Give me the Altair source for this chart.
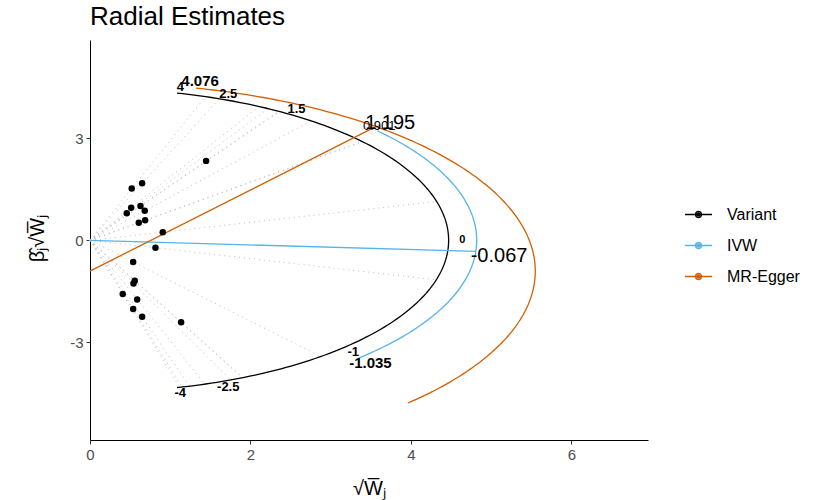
import math
import numpy as np
import pandas as pd
import altair as alt

# ---- values ----
sqrt_w = [1.447, 0.520, 0.650, 0.513, 0.458, 0.629, 0.682, 0.608, 0.687, 0.907,
          0.816, 0.538, 0.558, 0.542, 0.408, 0.588, 0.538, 0.650, 1.136]
beta_sqrt_w = [2.34, 1.53, 1.68, 0.96, 0.80, 1.01, 0.87, 0.52, 0.59, 0.24,
               -0.22, -0.64, -1.19, -1.27, -1.58, -1.74, -2.02, -2.25, -2.41]

ivw_est = -0.067
egger_est = 1.195
egger_int = -0.906
variant_range = [-4.0, 4.0]
ivw_range = [-1.035, 0.901]
egger_range = [-0.98, 4.076]
variant_ticks = [4, 2.5, 1.5, -1, -2.5, -4]
variant_zero = [0]
r_variant = 4.47
r_ivw = 4.82
r_egger = 5.55

series_names = ["Variant", "IVW", "MR-Egger"]
series_colors = ["#000000", "#56B4E9", "#D55E00"]

x_ticks = [0, 2, 4, 6]
y_ticks = [-3, 0, 3]

FONT = "Liberation Sans"

# ---- build tables ----
def arc(r, lo, hi, cy=0.0, n=160):
    th = np.linspace(math.atan(hi), math.atan(lo), n)
    return r * np.cos(th), cy + r * np.sin(th)

rows = []
def add(series, group, xs, ys):
    for i, (a, b) in enumerate(zip(xs, ys)):
        rows.append({"series": series, "group": group, "ord": i, "x": float(a), "y": float(b)})

add("Variant", "v_arc", *arc(r_variant, *variant_range))
add("IVW", "i_arc", *arc(r_ivw, *ivw_range))
ti = math.atan(ivw_est)
add("IVW", "i_line", [0, r_ivw * math.cos(ti)], [0, r_ivw * math.sin(ti)])
add("MR-Egger", "e_arc", *arc(r_egger, *egger_range, cy=egger_int))
te = math.atan(egger_est)
add("MR-Egger", "e_line", [0, r_egger * math.cos(te)], [egger_int, egger_int + r_egger * math.sin(te)])
lines_df = pd.DataFrame(rows)

pts_df = pd.DataFrame({"x": sqrt_w, "y": beta_sqrt_w})
th_pts = [math.atan2(b, a) for a, b in zip(sqrt_w, beta_sqrt_w)]
rules_df = pd.DataFrame({
    "x": [0.0] * len(sqrt_w), "y": [0.0] * len(sqrt_w),
    "x2": [r_variant * math.cos(t) for t in th_pts],
    "y2": [r_variant * math.sin(t) for t in th_pts],
})

def label_df(values, r, cy=0.0, texts=None):
    out = []
    for i, v in enumerate(values):
        t = math.atan(v)
        out.append({"x": r * math.cos(t), "y": cy + r * math.sin(t),
                    "text": texts[i] if texts else (str(v) if v != int(v) else str(int(v)))})
    return pd.DataFrame(out)

lab_var = label_df(variant_ticks, r_variant + 0.17)
lab_zero = label_df(variant_zero, r_variant + 0.17)
lab_mid = pd.concat([
    label_df([ivw_range[0]], r_ivw + 0.21, texts=["-1.035"]),
    label_df([egger_range[1]], r_egger + 0.21, cy=egger_int, texts=["4.076"]),
])
lab_small = label_df([ivw_range[1]], r_ivw + 0.2, texts=["0.901"])
lab_big = pd.concat([
    label_df([ivw_est], r_ivw + 0.29, texts=["-0.067"]),
    label_df([egger_est], r_egger + 0.28, cy=egger_int, texts=["1.195"]),
])

# ---- encodings ----
xscale = alt.Scale(domain=[0, 6.955], nice=False, zero=False)
yscale = alt.Scale(domain=[-5.88, 5.9], nice=False, zero=False)
xaxis = alt.Axis(values=x_ticks, title="√W̅ⱼ", grid=False, labelExpr="toString(datum.value)",
                 labelFlush=False,
                 titleX=279, titleY=48, titleBaseline="middle", titleAlign="center")
yaxis = alt.Axis(values=y_ticks, title="β̂ⱼ√W̅ⱼ", grid=False, labelExpr="toString(datum.value)",
                 labelFlush=False,
                 titleAngle=-90, titleX=-53, titleY=198, titleBaseline="middle", titleAlign="center")
X = alt.X("x:Q", scale=xscale, axis=xaxis)
Y = alt.Y("y:Q", scale=yscale, axis=yaxis)

rules = alt.Chart(rules_df).mark_rule(color="#BDBDBD", strokeWidth=1, strokeDash=[1, 4]).encode(
    x=X, y=Y, x2="x2:Q", y2="y2:Q")

legend_path = ("M-1,0L1,0"
               "M-0.22,0A0.22,0.22,0,1,1,0.22,0A0.22,0.22,0,1,1,-0.22,0"
               "M-0.1,0A0.1,0.1,0,1,1,0.1,0A0.1,0.1,0,1,1,-0.1,0")

lines = alt.Chart(lines_df).mark_line(strokeWidth=1.3).encode(
    x=X, y=Y,
    color=alt.Color("series:N", scale=alt.Scale(domain=series_names, range=series_colors),
                    legend=alt.Legend(title=None, orient="none", legendX=594, legendY=160,
                                      symbolType=legend_path, symbolSize=729, symbolStrokeWidth=1.5,
                                      labelFontSize=16, labelFont=FONT, labelColor="#000000",
                                      labelOffset=14, rowPadding=8, padding=0)),
    detail="group:N", order="ord:Q")

points = alt.Chart(pts_df).mark_circle(size=42, color="#000000", opacity=1).encode(x=X, y=Y)

def text_layer(df, size, weight, dx=0, dy=0):
    return alt.Chart(df).mark_text(fontSize=size, fontWeight=weight, font=FONT, color="#000000",
                                   align="center", baseline="middle", dx=dx, dy=dy).encode(
        x=X, y=Y, text="text:N")

chart = alt.layer(
    rules, lines, points,
    text_layer(lab_var, 13, "bold"),
    text_layer(lab_zero, 11, "bold"),
    text_layer(lab_small, 13, "normal", dx=-10),
    text_layer(lab_mid, 15, "bold"),
    text_layer(lab_big, 20, "normal", dy=4),
).properties(
    width=558, height=400,
    title=alt.TitleParams("Radial Estimates", anchor="start", frame="group", fontSize=26,
                          fontWeight="normal", font=FONT, color="#000000", offset=10),
    padding={"left": 90, "top": 40, "right": 183, "bottom": 60},
    autosize=alt.AutoSizeParams(type="none"),
).configure_view(stroke=None).configure_axis(
    domainColor="#000000", domainWidth=1, tickColor="#333333", tickSize=4, tickWidth=1,
    labelFont=FONT, labelFontSize=15, labelColor="#4D4D4D", labelPadding=3,
    titleFont=FONT, titleFontSize=20, titleFontWeight="normal", titleColor="#000000",
)

chart.save("out.html", embed_options={"renderer": "svg", "actions": False})
